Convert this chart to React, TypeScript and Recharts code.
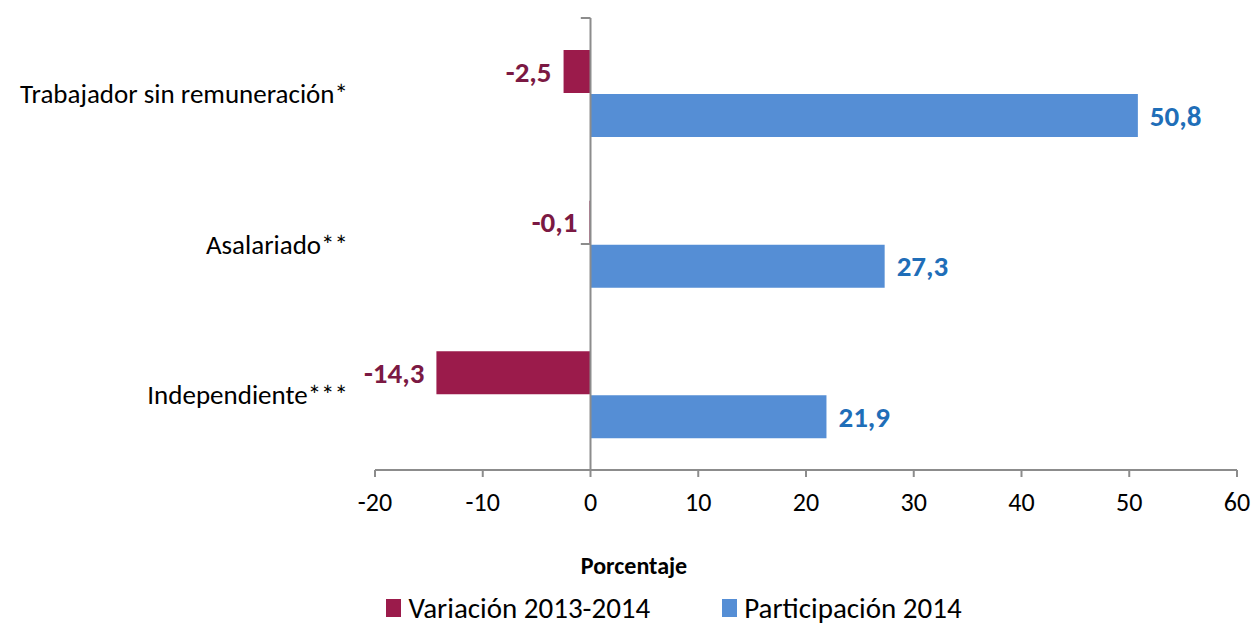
import React from 'react';
import { BarChart, Bar, XAxis, YAxis, LabelList, ReferenceLine, Legend } from 'recharts';

const categories = ['Trabajador sin remuneración*', 'Asalariado**', 'Independiente***'];
const variacion = [-2.5, -0.1, -14.3];
const participacion = [50.8, 27.3, 21.9];
const xTicks = [-20, -10, 0, 10, 20, 30, 40, 50, 60];
const bandEdges = [0, 1, 2, 3];

const series = [
  { key: 'variacion', name: 'Variación 2013-2014', color: '#9B1B4B', labelColor: '#7B1943' },
  { key: 'participacion', name: 'Participación 2014', color: '#558ED5', labelColor: '#1F6EB8' },
];

const data = categories.map((c, i) => ({
  name: c,
  variacion: variacion[i],
  participacion: participacion[i],
}));

const FONT = 'Carlito, Lato, "Open Sans", sans-serif';
const AXIS = '#8C8C8C';

const fmt = (v: any) => String(v).replace('.', ',');

const LegendContent = () => (
  <div
    style={{
      display: 'flex',
      justifyContent: 'center',
      gap: 72,
      fontFamily: FONT,
      fontSize: 29,
      lineHeight: '34px',
      color: '#000',
      paddingLeft: 111,
      paddingTop: 8,
      height: 44,
      boxSizing: 'border-box',
    }}
  >
    {series.map(s => (
      <div key={s.key} style={{ display: 'flex', alignItems: 'center' }}>
        <span style={{ display: 'inline-block', width: 15, height: 18, background: s.color, marginRight: 7 }} />
        <span>{s.name}</span>
      </div>
    ))}
  </div>
);

export default function App() {
  return (
    <div style={{ position: 'absolute', left: 0, top: 0, background: '#fff' }}>
      <BarChart
        width={1257}
        height={626}
        data={data}
        layout="vertical"
        margin={{ top: 18, right: 20, left: 0, bottom: 0 }}
        barSize={43}
        barGap={1}
      >
        <XAxis
          type="number"
          domain={[-20, 60]}
          ticks={xTicks}
          interval={0}
          height={112}
          stroke={AXIS}
          strokeWidth={2}
          tickSize={7}
          tickMargin={16}
          tick={{ fill: '#000', fontSize: 26, fontFamily: FONT }}
          label={({ viewBox }: any) => (
            <text
              x={viewBox.x + viewBox.width / 2 - 172}
              y={viewBox.y + 104}
              textAnchor="middle"
              fontFamily={FONT}
              fontSize={24}
              fontWeight="bold"
              fill="#000"
            >
              Porcentaje
            </text>
          )}
        />
        <YAxis
          type="category"
          dataKey="name"
          width={375}
          axisLine={false}
          tickLine={false}
          tickSize={0}
          tickMargin={27}
          tick={{ fill: '#000', fontSize: 27, fontFamily: FONT }}
        />
        <YAxis yAxisId="edge" type="number" domain={[0, 3]} hide />
        <Legend verticalAlign="bottom" content={<LegendContent />} />
        {series.map(s => (
          <Bar key={s.key} dataKey={s.key} name={s.name} fill={s.color} isAnimationActive={false}>
            <LabelList
              dataKey={s.key}
              position="right"
              offset={12}
              formatter={fmt}
              fill={s.labelColor}
              fontSize={29}
              fontWeight="bold"
              fontFamily={FONT}
            />
          </Bar>
        ))}
        <ReferenceLine x={0} stroke={AXIS} strokeWidth={2} />
        {bandEdges.map(e => (
          <ReferenceLine
            key={e}
            yAxisId="edge"
            segment={[{ x: -0.9, y: e }, { x: 0, y: e }]}
            stroke={AXIS}
            strokeWidth={2}
            ifOverflow="visible"
          />
        ))}
      </BarChart>
    </div>
  );
}
